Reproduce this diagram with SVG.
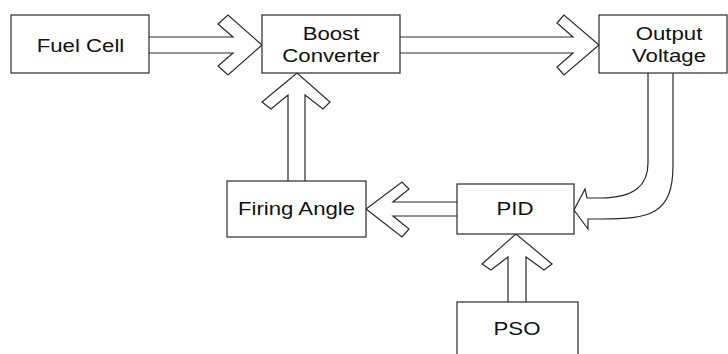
<svg xmlns="http://www.w3.org/2000/svg" width="728" height="354" viewBox="0 0 728 354">
  <style>
    .box { fill: #ffffff; stroke: #2a2a2a; stroke-width: 1.2; }
    .arrow { fill: #ffffff; stroke: #2a2a2a; stroke-width: 1.2; stroke-linejoin: miter; }
    .label { font-family: "Liberation Sans", Arial, sans-serif; font-size: 18.5px; fill: #111111; text-anchor: middle; }
  </style>
  <rect width="728" height="354" fill="#ffffff"/>

  <!-- block arrows between the blocks -->
  <g id="connectors">
    <!-- Fuel Cell to Boost Converter -->
    <path class="arrow" d="M149,37 H233 L218,24 L228,15 L262,45 L228,75 L218,66 L233,53 H149"/>
    <!-- Boost Converter to Output Voltage -->
    <path class="arrow" d="M400,37 H573 L557,23 L564,15 L599,45 L564,75 L557,67 L573,53 H400"/>
    <!-- Firing Angle up to Boost Converter -->
    <path class="arrow" d="M288,181 V95 L271,109 L262,102 L297,73 L330,102 L323,109 L305,95 V181"/>
    <!-- PID to Firing Angle -->
    <path class="arrow" d="M457,202 H393 L409,189 L402,182 L366,209 L402,237 L409,229 L393,216 H457"/>
    <!-- PSO up to PID -->
    <path class="arrow" d="M508,302 V257 L491,270 L482,264 L516,234 L552,264 L544,270 L526,257 V302"/>
    <!-- Output Voltage feedback bending into PID -->
    <path class="arrow" d="M648,73 V163 C648,185 635,198 600,198 H587 L585,189 L574,210 L588,229 L588,219 H600 C650,219 673,215 673,165 V73"/>
  </g>

  <g id="fuel-cell">
    <rect class="box" x="11" y="15" width="138" height="58"/>
    <text class="label" transform="translate(80.5,51.5) scale(1.2,1)">Fuel Cell</text>
  </g>

  <g id="boost-converter">
    <rect class="box" x="262" y="15" width="138" height="58"/>
    <text class="label" transform="translate(331,40) scale(1.2,1)">Boost</text>
    <text class="label" transform="translate(331,62) scale(1.2,1)">Converter</text>
  </g>

  <g id="output-voltage">
    <rect class="box" x="599" y="15" width="128" height="58"/>
    <text class="label" transform="translate(669,39.5) scale(1.2,1)">Output</text>
    <text class="label" transform="translate(669,61.5) scale(1.2,1)">Voltage</text>
  </g>

  <g id="firing-angle">
    <rect class="box" x="227" y="181" width="139" height="56"/>
    <text class="label" transform="translate(296.5,214.5) scale(1.2,1)">Firing Angle</text>
  </g>

  <g id="pid">
    <rect class="box" x="457" y="184" width="117" height="50"/>
    <text class="label" transform="translate(515,214.5) scale(1.2,1)">PID</text>
  </g>

  <g id="pso">
    <rect class="box" x="457" y="302" width="121" height="60"/>
    <text class="label" transform="translate(517,335) scale(1.2,1)">PSO</text>
  </g>
</svg>
